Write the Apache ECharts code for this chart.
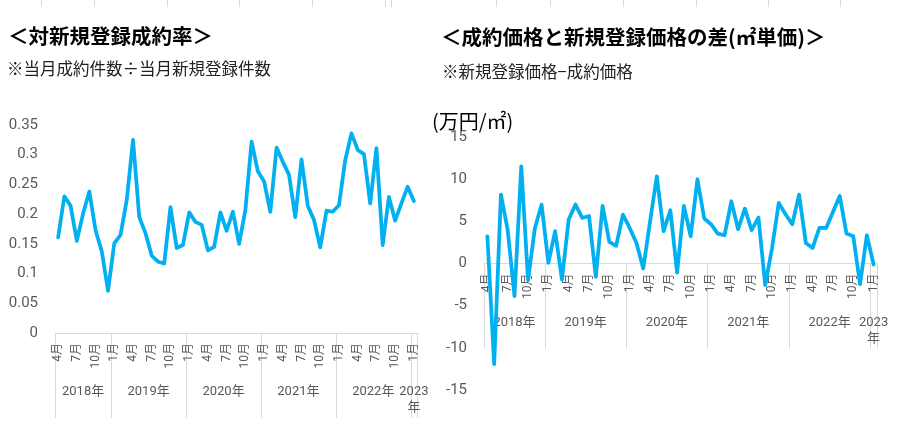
<!DOCTYPE html>
<html>
<head>
<meta charset="utf-8">
<script src="https://cdn.jsdelivr.net/npm/echarts@6/dist/echarts.min.js"></script>
<style>
  html, body { margin: 0; padding: 0; background: #fff; }
  #chart { width: 913px; height: 435px; }
</style>
</head>
<body>
<div id="chart"></div>
<script>
// 月ラベル（2018年4月〜2023年1月）
const months = [
  '4月','5月','6月','7月','8月','9月','10月','11月','12月',
  '1月','2月','3月','4月','5月','6月','7月','8月','9月','10月','11月','12月',
  '1月','2月','3月','4月','5月','6月','7月','8月','9月','10月','11月','12月',
  '1月','2月','3月','4月','5月','6月','7月','8月','9月','10月','11月','12月',
  '1月','2月','3月','4月','5月','6月','7月','8月','9月','10月','11月','12月',
  '1月'
];
const yearLabels = ['2018年', '2019年', '2020年', '2021年', '2022年', '2023\n年'];
// 年の区切り（月インデックス）
const yearBounds = [0, 9, 21, 33, 45, 57, 58];

// 対新規登録成約率
const rateValues = [
  0.161, 0.230, 0.214, 0.155, 0.201, 0.238, 0.173, 0.137, 0.071,
  0.151, 0.165, 0.224, 0.325, 0.195, 0.168, 0.130, 0.120, 0.117, 0.212, 0.143, 0.148,
  0.203, 0.187, 0.182, 0.139, 0.145, 0.203, 0.172, 0.204, 0.150, 0.207, 0.322, 0.272,
  0.255, 0.204, 0.312, 0.288, 0.266, 0.195, 0.292, 0.214, 0.190, 0.144, 0.206, 0.204,
  0.215, 0.291, 0.336, 0.308, 0.301, 0.218, 0.311, 0.148, 0.229, 0.189, 0.218, 0.246,
  0.222
];
// 新規登録価格 − 成約価格（万円/㎡）
const diffValues = [
  3.23, -11.93, 8.17, 3.95, -3.87, 11.53, -1.98, 4.14, 6.99,
  0.08, 3.83, -1.90, 5.21, 6.99, 5.40, 5.64, -1.58, 6.83, 2.56, 2.09, 5.80,
  4.22, 2.44, -0.59, 4.93, 10.34, 3.83, 6.32, -1.07, 6.83, 3.23, 9.99, 5.33,
  4.66, 3.55, 3.35, 7.38, 4.06, 6.51, 3.95, 5.45, -2.57, 1.78, 7.18, 5.84,
  4.66, 8.17, 2.44, 1.85, 4.22, 4.22, 6.11, 8.01, 3.55, 3.23, -2.45, 3.35,
  -0.12
];

const rateAxis = { min: 0, max: 0.35, interval: 0.05 };
const diffAxis = { min: -15, max: 15, interval: 5 };

const yearCenters = yearBounds.slice(0, -1).map((b, i) => (b + yearBounds[i + 1]) / 2);

const LINE = '#00B0F0';
const AXIS_GRAY = '#d9d9d9';
const LABEL_GRAY = '#595959';
const NUM_FONT = 'Roboto, "Noto Sans CJK JP", sans-serif';
const JP_FONT = '"Noto Sans CJK JP", sans-serif';

// 月軸（カテゴリ）
const monthAxis = gridIndex => ({
  type: 'category',
  gridIndex,
  position: 'bottom',
  data: months,
  boundaryGap: true,
  axisLine: { show: true, onZero: false, lineStyle: { color: AXIS_GRAY, width: 1 } },
  axisTick: { show: false },
  axisLabel: {
    interval: 2,
    rotate: 90,
    margin: 10,
    color: LABEL_GRAY,
    fontSize: 12,
    fontFamily: NUM_FONT
  },
  splitLine: { show: false }
});

// 年軸（区切り線＋年ラベル）
const yearAxis = gridIndex => ({
  type: 'value',
  gridIndex,
  position: 'bottom',
  min: 0,
  max: months.length,
  axisLine: { show: false, onZero: false },
  axisTick: {
    show: true,
    customValues: yearBounds,
    length: 85,
    inside: false,
    lineStyle: { color: AXIS_GRAY, width: 1 }
  },
  axisLabel: {
    customValues: yearCenters,
    margin: 51,
    color: LABEL_GRAY,
    fontSize: 13,
    lineHeight: 16,
    fontFamily: NUM_FONT,
    formatter: v => {
      const i = yearCenters.indexOf(v);
      return i >= 0 ? yearLabels[i] : '';
    }
  },
  splitLine: { show: false }
});

// 線用の非表示カテゴリ軸
const hiddenCatAxis = gridIndex => ({
  type: 'category',
  gridIndex,
  data: months,
  boundaryGap: true,
  show: false
});

const valueAxis = (gridIndex, range) => ({
  type: 'value',
  gridIndex,
  min: range.min,
  max: range.max,
  interval: range.interval,
  axisLine: { show: false, onZero: false },
  axisTick: { show: false },
  splitLine: { show: false },
  axisLabel: { color: LABEL_GRAY, fontSize: 15, margin: 17, fontFamily: NUM_FONT }
});

const lineSeries = (xIdx, yIdx, data) => ({
  type: 'line',
  xAxisIndex: xIdx,
  yAxisIndex: yIdx,
  data,
  symbol: 'none',
  smooth: false,
  lineStyle: { color: LINE, width: 3.75, join: 'round', cap: 'round' },
  itemStyle: { color: LINE },
  z: 5,
  animation: false
});

// 上部のセル罫線
const cellBorderX = [41, 94, 167, 239, 312, 385, 391, 496, 550, 623, 696, 768, 840];

// 右グラフ：0の位置（px）
const rightTop = 137, rightBottom = 390;
const rightZeroY = rightTop + (rightBottom - rightTop) * (diffAxis.max - 0) / (diffAxis.max - diffAxis.min);

const chart = echarts.init(document.getElementById('chart'));
chart.setOption({
  backgroundColor: '#fff',
  animation: false,
  title: [
    { text: '＜対新規登録成約率＞', left: 8, top: 24, padding: 0,
      textStyle: { fontSize: 20.5, fontWeight: 'bold', color: '#000', fontFamily: JP_FONT, lineHeight: 24 } },
    { text: '※当月成約件数÷当月新規登録件数', left: 7, top: 59, padding: 0,
      textStyle: { fontSize: 16.5, fontWeight: 'normal', color: '#222', fontFamily: JP_FONT, lineHeight: 20 } },
    { text: '＜成約価格と新規登録価格の差(㎡単価)＞', left: 441, top: 25, padding: 0,
      textStyle: { fontSize: 20.5, fontWeight: 'bold', color: '#000', fontFamily: JP_FONT, lineHeight: 24 } },
    { text: '※新規登録価格−成約価格', left: 442, top: 62, padding: 0,
      textStyle: { fontSize: 16.5, fontWeight: 'normal', color: '#222', fontFamily: JP_FONT, lineHeight: 20 } },
    { text: '(万円/㎡)', left: 432, top: 109, padding: 0,
      textStyle: { fontSize: 20, fontWeight: 'normal', color: '#000', fontFamily: JP_FONT, lineHeight: 24 } }
  ],
  grid: [
    { left: 55, right: 496, top: 125, bottom: 102, containLabel: false, outerBoundsMode: 'none' },
    { left: 484, right: 36, top: rightTop, bottom: 435 - rightBottom, containLabel: false, outerBoundsMode: 'none' },
    // 右グラフの月・年軸を0の位置に置くための重ねグリッド
    { left: 484, right: 36, top: rightTop, bottom: 435 - rightZeroY, containLabel: false, outerBoundsMode: 'none' }
  ],
  xAxis: [monthAxis(0), yearAxis(0), hiddenCatAxis(1), monthAxis(2), yearAxis(2)],
  yAxis: [
    valueAxis(0, rateAxis),
    valueAxis(1, diffAxis),
    { type: 'value', gridIndex: 2, min: 0, max: 1, show: false }
  ],
  series: [lineSeries(0, 0, rateValues), lineSeries(2, 1, diffValues)],
  graphic: cellBorderX.map(x => ({
    type: 'line',
    silent: true,
    shape: { x1: x + 0.5, y1: 0, x2: x + 0.5, y2: 7 },
    style: { stroke: AXIS_GRAY, lineWidth: 1 }
  }))
});
</script>
</body>
</html>
